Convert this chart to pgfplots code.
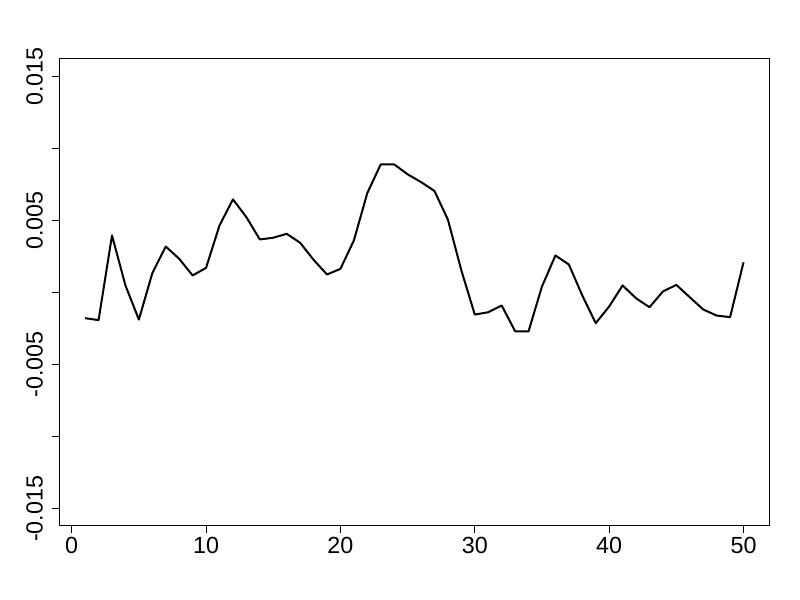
\documentclass[border=0pt]{standalone}
\usepackage{fontspec}
\setmainfont{Liberation Sans}
\usepackage{pgfplots}
\pgfplotsset{compat=1.18}
\usetikzlibrary{calc}

\begin{document}
\begin{tikzpicture}[x=1pt,y=1pt]
\begin{axis}[
    scale only axis,
    width=532.5pt,
    height=350.25pt,
    xmin=-0.92, xmax=51.92,
    ymin=-0.0162, ymax=0.0162,
    axis lines*=box,
    axis line style={line width=0.75pt},
    xtick={0,10,20,30,40,50},
    ytick={-0.015,-0.01,-0.005,0,0.005,0.01,0.015},
    yticklabels={-0.015,,-0.005,,0.005,,0.015},
    xtick pos=bottom, ytick pos=left,
    tick align=outside,
    major tick length=5.25pt,
    every tick/.style={black, line width=0.75pt},
    /pgf/number format/assume math mode=true,
    tick label style={font=\fontsize{17.5}{20}\selectfont},
    xticklabel style={anchor=north, inner sep=0pt, yshift=-3pt},
    yticklabel style={rotate=90, anchor=south, inner sep=0pt, yshift=7pt},
    scaled y ticks=false,
    clip=false,
]
\coordinate (O) at (rel axis cs:0,0);
\addplot[black, line width=1.5pt, line join=round] coordinates {
(1,-0.00178) (2,-0.00192) (3,0.00396) (4,0.00049) (5,-0.00188)
(6,0.00134) (7,0.00319) (8,0.00234) (9,0.00118) (10,0.00171)
(11,0.00465) (12,0.00646) (13,0.00523) (14,0.00368) (15,0.00380)
(16,0.00407) (17,0.00345) (18,0.00227) (19,0.00125) (20,0.00164)
(21,0.00361) (22,0.00690) (23,0.00889) (24,0.00889) (25,0.00820)
(26,0.00766) (27,0.00704) (28,0.00505) (29,0.00153) (30,-0.00153)
(31,-0.00137) (32,-0.00090) (33,-0.00269) (34,-0.00269) (35,0.00042)
(36,0.00257) (37,0.00194) (38,-0.00021) (39,-0.00213) (40,-0.00097)
(41,0.00049) (42,-0.00040) (43,-0.00102) (44,0.00007) (45,0.00053)
(46,-0.00033) (47,-0.00118) (48,-0.00160) (49,-0.00171) (50,0.00210)
};
\end{axis}
\pgfresetboundingbox
\path ($(O)+(-44.5pt,-55.5pt)$) rectangle ($(O)+(555.5pt,394.5pt)$);
\end{tikzpicture}
\end{document}
